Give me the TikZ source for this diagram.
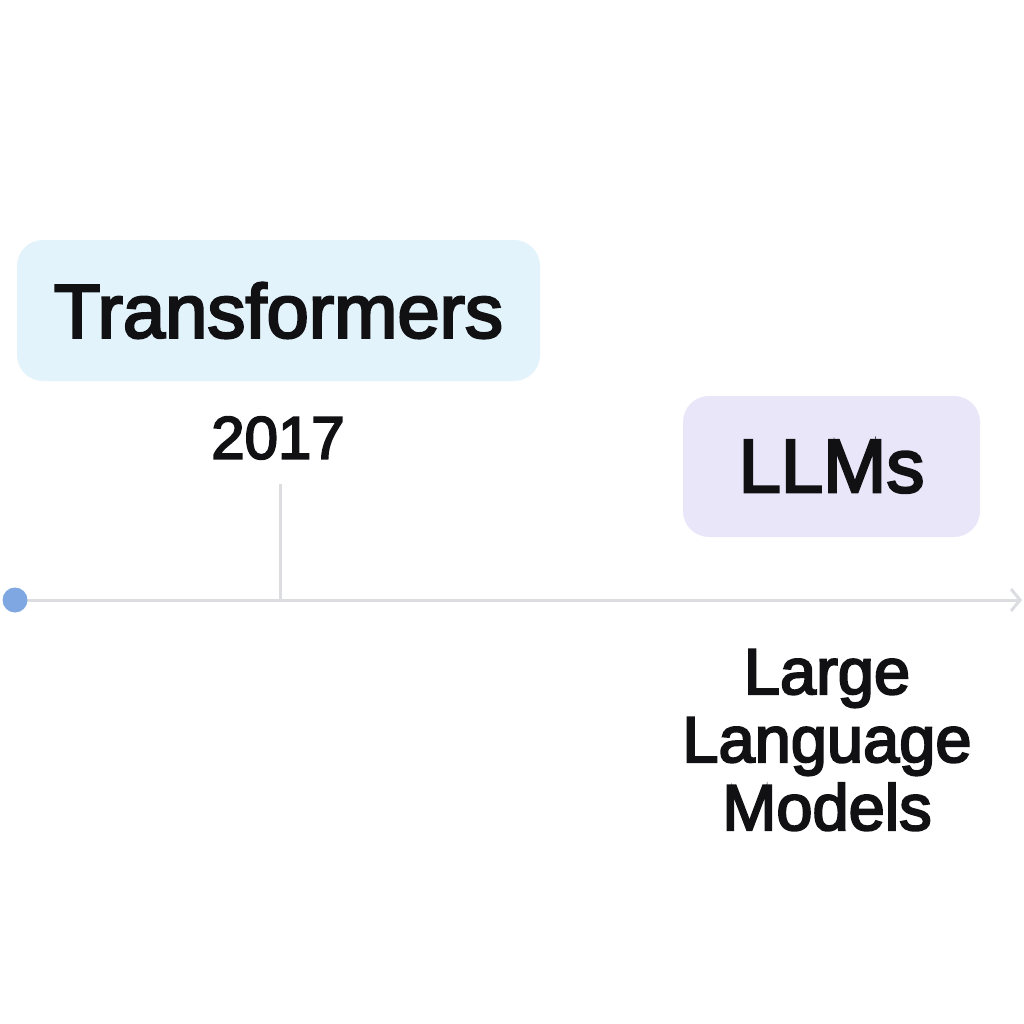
\documentclass[tikz,border=0pt]{standalone}
\usepackage{fontspec}
\setmainfont{Liberation Sans}
\newfontfamily\medfont{Liberation Sans}[RawFeature={embolden=3.2}]
\usetikzlibrary{arrows.meta}
\definecolor{boxblue}{HTML}{E3F3FB}
\definecolor{boxviolet}{HTML}{EAE6FA}
\definecolor{linegray}{HTML}{DCDDE0}
\definecolor{dotblue}{HTML}{7FA8E2}
\definecolor{ink}{HTML}{111114}
\tikzset{
  labelbox/.style={rounded corners=26pt, inner sep=0pt, text=ink},
  axisline/.style={draw=linegray, line width=3pt},
}
\begin{document}
\begin{tikzpicture}[x=1pt,y=1pt]
\useasboundingbox[fill=white] (0,0) rectangle (1024,-1024);
% boxes
\node[labelbox, fill=boxblue, minimum width=523pt, minimum height=141pt,
  font=\medfont\fontsize{76}{80}\selectfont] (trans) at (278.5,-310.5) {Transformers};
\node[labelbox, fill=boxviolet, minimum width=297pt, minimum height=141pt,
  font=\medfont\fontsize{76}{80}\selectfont] (llms) at (831.5,-466.5) {LLMs};
% year
\node[text=ink, inner sep=0pt, font=\medfont\fontsize{60}{64}\selectfont] (year) at (278,-438) {2017};
% timeline
\coordinate (start) at (15,-600);
\coordinate (tickbase) at (280,-600);
\coordinate (ticktop) at (280,-484);
\coordinate (end) at (1022,-600);
\draw[axisline, -{Straight Barb[length=9pt,width=22pt,line width=3pt]}] (start) -- (end);
\draw[axisline] (tickbase) -- (ticktop);
\fill[dotblue] (start) circle (12.5);
% description
\node[text=ink, align=center, inner sep=0pt, font=\medfont\fontsize{65}{68}\selectfont] (desc) at (827,-740)
  {Large\\Language\\Models};
\end{tikzpicture}
\end{document}
